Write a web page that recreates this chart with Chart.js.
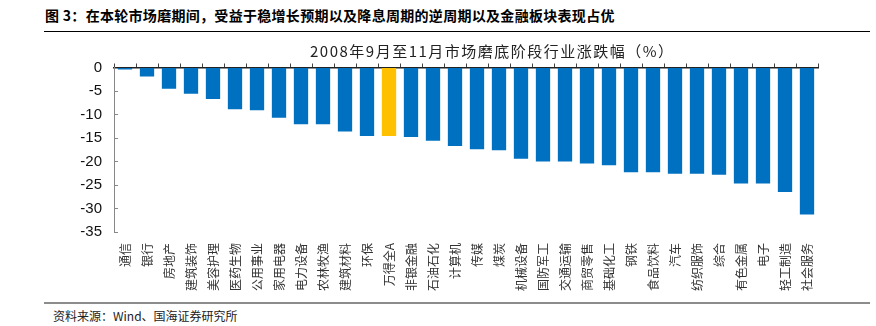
<!DOCTYPE html>
<html>
<head>
<meta charset="utf-8">
<script src="https://cdn.jsdelivr.net/npm/chart.js@4.4.1/dist/chart.umd.min.js"></script>
<style>
	body { margin: 0; background: #fff; width: 876px; height: 326px; overflow: hidden; position: relative; font-family: "Noto Sans CJK SC", sans-serif; }
	#title { position: absolute; left: 45px; top: 5px; font-size: 14px; font-weight: bold; letter-spacing: 0.3px; color: #000; white-space: nowrap; }
	#titleLine { position: absolute; left: 44px; top: 31px; width: 826px; height: 1px; background: #000; }
	#subtitle { position: absolute; left: 310px; top: 40px; font-size: 15px; color: #222; letter-spacing: 1.5px; white-space: nowrap; }
	#wrap { position: absolute; left: 0; top: 0; }
	#srcLine { position: absolute; left: 44px; top: 302px; width: 826px; height: 2px; background: #8c8c8c; }
	#source { position: absolute; left: 53px; top: 307px; font-size: 12px; color: #222; white-space: nowrap; }
</style>
</head>
<body>
<div id="title">图 3：在本轮市场磨期间，受益于稳增长预期以及降息周期的逆周期以及金融板块表现占优</div>
<div id="titleLine"></div>
<div id="wrap"><canvas id="mycanvas" width="876" height="300"></canvas></div>
<div id="subtitle">2008年9月至11月市场磨底阶段行业涨跌幅（%）</div>
<div id="srcLine"></div>
<div id="source">资料来源：Wind、国海证券研究所</div>

<script>
// 行业涨跌幅 (%)
var industry = ["通信", "银行", "房地产", "建筑装饰", "美容护理", "医药生物", "公用事业", "家用电器",
	"电力设备", "农林牧渔", "建筑材料", "环保", "万得全A", "非银金融", "石油石化", "计算机",
	"传媒", "煤炭", "机械设备", "国防军工", "交通运输", "商贸零售", "基础化工", "钢铁",
	"食品饮料", "汽车", "纺织服饰", "综合", "有色金属", "电子", "轻工制造", "社会服务"];
var change = [-0.4, -1.9, -4.5, -5.6, -6.7, -8.9, -9.1, -10.7,
	-12.1, -12.1, -13.6, -14.6, -14.6, -14.8, -15.6, -16.7,
	-17.4, -17.6, -19.4, -20.0, -20.0, -20.4, -20.8, -22.3,
	-22.3, -22.6, -22.6, -22.8, -24.7, -24.7, -26.5, -31.3];
var highlight = "万得全A";
var yTicks = [0, -5, -10, -15, -20, -25, -30, -35];

var colors = [];
for (var i in industry) {
	colors.push(industry[i] === highlight ? "#FFC000" : "#0070C0");
}

var chartdata = {
	labels: industry,
	datasets: [
		{
			label: "涨跌幅",
			data: change,
			backgroundColor: colors,
			borderWidth: 0,
			barPercentage: 0.65,
			categoryPercentage: 1.0
		}
	]
};

var ctx = document.getElementById("mycanvas");

var BarGraph = new Chart(ctx, {
	type: 'bar',
	data: chartdata,
	options: {
		responsive: false,
		animation: false,
		layout: { padding: { left: 0, right: 58, top: 0, bottom: 0 } },
		plugins: {
			legend: { display: false },
			tooltip: { enabled: false }
		},
		scales: {
			x: {
				position: 'bottom',
				border: { display: false },
				grid: { display: false, drawTicks: false },
				ticks: {
					autoSkip: false,
					minRotation: 90,
					maxRotation: 90,
					padding: 11,
					color: "#333",
					font: { family: "Noto Sans CJK SC", size: 12 }
				},
				afterFit: function(scale) { scale.height = 68; }
			},
			x2: {
				type: 'category',
				position: 'top',
				offset: true,
				border: { display: true, color: "#222", width: 1.5 },
				grid: { offset: true, drawOnChartArea: false, drawTicks: true, tickLength: 4, color: "#444" },
				ticks: { display: false },
				afterFit: function(scale) { scale.height = 67.5; }
			},
			y: {
				min: -35,
				max: 0,
				afterBuildTicks: function(scale) {
					scale.ticks = yTicks.map(function(v) { return { value: v }; });
				},
				border: { display: true, color: "#888", width: 1 },
				grid: { drawOnChartArea: false, drawTicks: true, tickLength: -4, color: "#888" },
				ticks: {
					padding: 16,
					color: "#111",
					font: { family: "Liberation Sans", size: 15 }
				},
				afterFit: function(scale) { scale.width = 114; }
			}
		}
	}
});
</script>
</body>
</html>
